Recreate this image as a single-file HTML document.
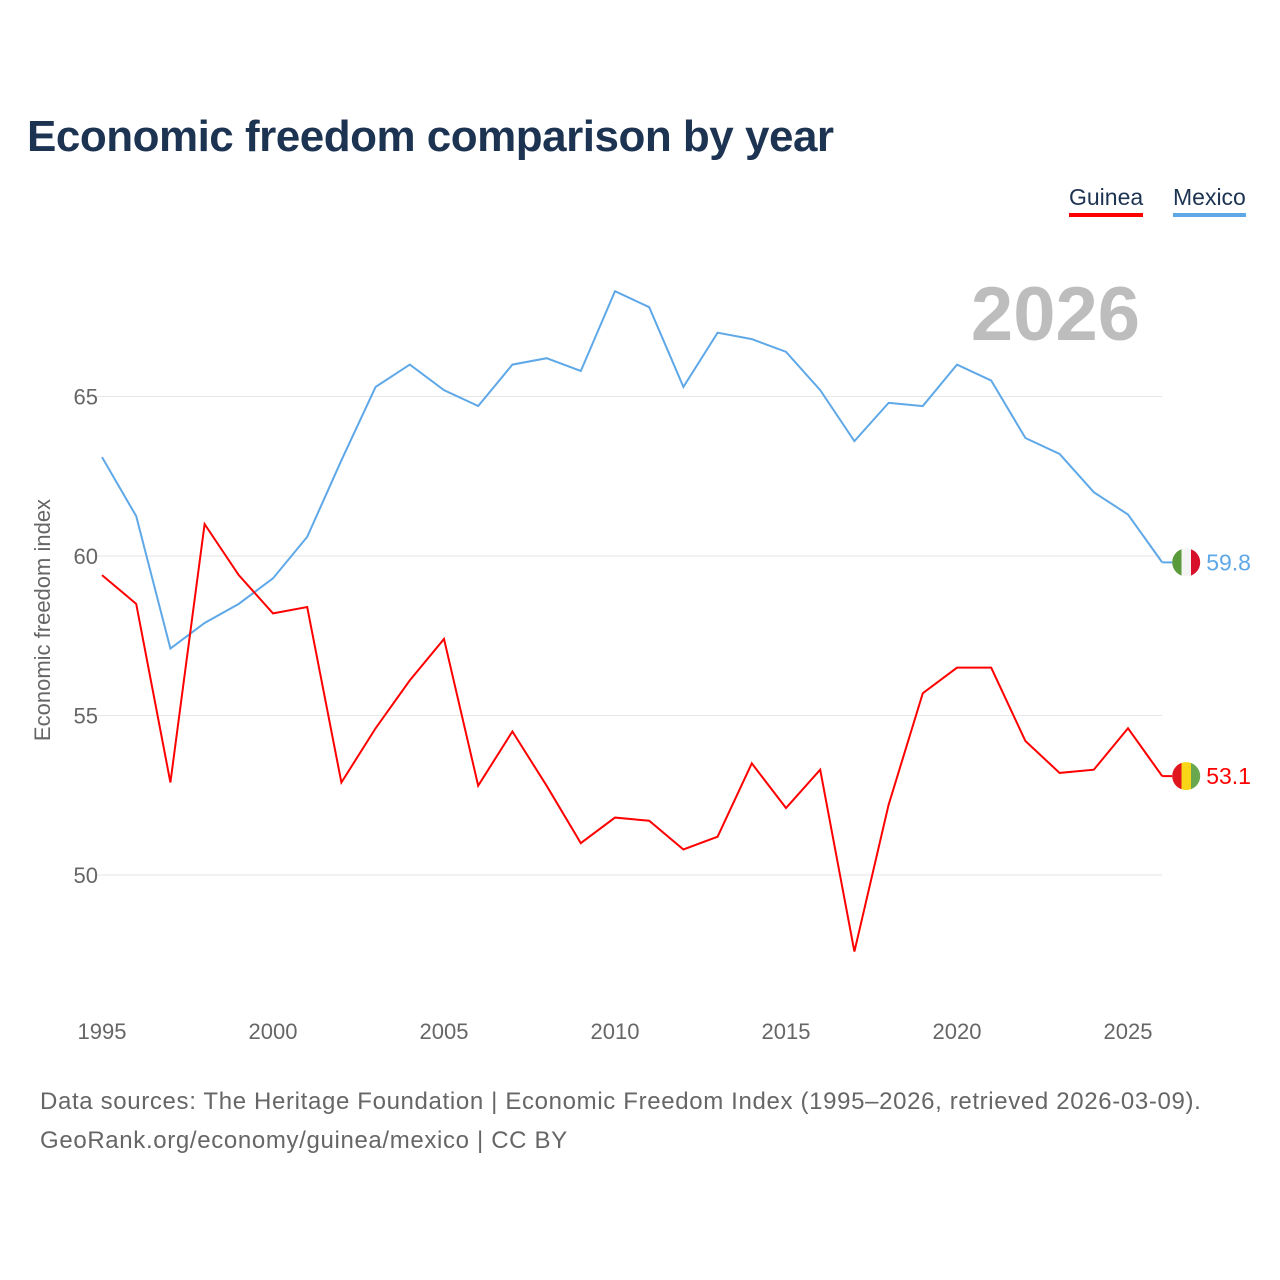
<!DOCTYPE html>
<html><head><meta charset="utf-8"><style>
body{margin:0;background:#fff;font-family:"Liberation Sans",sans-serif;}
#wrap{position:relative;width:1280px;height:1280px;overflow:hidden;}
.title{position:absolute;left:27px;top:112px;font-size:44px;font-weight:bold;color:#1d3352;letter-spacing:-0.5px;}
.leg{position:absolute;top:184px;font-size:23px;color:#1d3352;padding-bottom:2px;}
.foot{position:absolute;left:40px;font-size:24px;color:#666;letter-spacing:0.65px;}
</style></head><body>
<div id="wrap">
<div class="title">Economic freedom comparison by year</div>
<div class="leg" style="left:1069px;border-bottom:4px solid #f00">Guinea</div>
<div class="leg" style="left:1173px;border-bottom:4px solid #5fa8e8">Mexico</div>
<svg id="chart" width="1280" height="1280" style="position:absolute;left:0;top:0"></svg>
<div class="foot" style="top:1088px">Data sources: The Heritage Foundation | Economic Freedom Index (1995–2026, retrieved 2026-03-09).</div>
<div class="foot" style="top:1127px">GeoRank.org/economy/guinea/mexico | CC BY</div>
</div>
<script>
const years=[];for(let y=1995;y<=2026;y++)years.push(y);
const mexico=[63.1,61.25,57.1,57.9,58.5,59.3,60.6,63.0,65.3,66.0,65.2,64.7,66.0,66.2,65.8,68.3,67.8,65.3,67.0,66.8,66.4,65.2,63.6,64.8,64.7,66.0,65.5,63.7,63.2,62.0,61.3,59.8];
const guinea=[59.4,58.5,52.9,61.0,59.4,58.2,58.4,52.9,54.6,56.1,57.4,52.8,54.5,52.8,51.0,51.8,51.7,50.8,51.2,53.5,52.1,53.3,47.6,52.2,55.7,56.5,56.5,54.2,53.2,53.3,54.6,53.1];
const yTicks=[50,55,60,65];
const xTicks=[1995,2000,2005,2010,2015,2020,2025];
const NS="http://www.w3.org/2000/svg";
const svg=document.getElementById('chart');
const x=v=>102+(v-1995)*34.2;
const y=v=>556-(v-60)*31.9;
function el(t,a){const e=document.createElementNS(NS,t);for(const k in a)e.setAttribute(k,a[k]);svg.appendChild(e);return e;}
yTicks.forEach(t=>{
 const g=el('line',{x1:95,x2:1162,y1:y(t),y2:y(t),stroke:'#e6e6e6','stroke-width':1});
 
 
 const l=el('text',{x:98,y:y(t)+8,'text-anchor':'end','font-size':22,fill:'#666','font-family':'Liberation Sans, sans-serif'});
 l.textContent=t;
 
 
});
xTicks.forEach(t=>{
 const l=el('text',{x:x(t),y:1039,'text-anchor':'middle','font-size':22,fill:'#666','font-family':'Liberation Sans, sans-serif'});
 l.textContent=t;
 
 
});
const yt=el('text',{x:0,y:0,transform:'translate(50,620) rotate(-90)','text-anchor':'middle','font-size':22,fill:'#666','font-family':'Liberation Sans, sans-serif'});
yt.textContent='Economic freedom index';


const yr=el('text',{x:1140,y:340,'text-anchor':'end','font-size':76,'font-weight':'bold',fill:'#bdbdbd','font-family':'Liberation Sans, sans-serif'});
yr.textContent='2026';


function series(vals,color,name,flagStops){
 const p=el('polyline',{points:vals.map((v,i)=>x(years[i])+','+y(v)).join(' '),fill:'none',stroke:color,'stroke-width':2});
 
 
 const lv=vals[vals.length-1];
 const ex=x(years[years.length-1]);
 const cx=ex+24, cy=y(lv);
 const st=el('line',{x1:ex,x2:cx-14,y1:cy,y2:cy,stroke:color,'stroke-width':2});
 
 
 const defs=el('defs',{});
 const lg=document.createElementNS(NS,'linearGradient');lg.setAttribute('id','g'+name);defs.appendChild(lg);
 flagStops.forEach((c,i)=>{[i/3,(i+1)/3].forEach(o=>{const s=document.createElementNS(NS,'stop');s.setAttribute('offset',o);s.setAttribute('stop-color',c);lg.appendChild(s);});});
 const c=el('circle',{cx:cx,cy:cy,r:14,fill:'url(#g'+name+')'});
 
 
 const t=el('text',{x:cx+20,y:cy+8,'font-size':23,fill:color,'font-family':'Liberation Sans, sans-serif'});
 t.textContent=lv.toFixed(1);
 
 
}
series(mexico,'#5fa8e8','mexico',['#5a9a3a','#f4f4f4','#d8102a']);
series(guinea,'#ff0000','guinea',['#e0161e','#f8d516','#6aa84f']);
</script>
</body></html>
